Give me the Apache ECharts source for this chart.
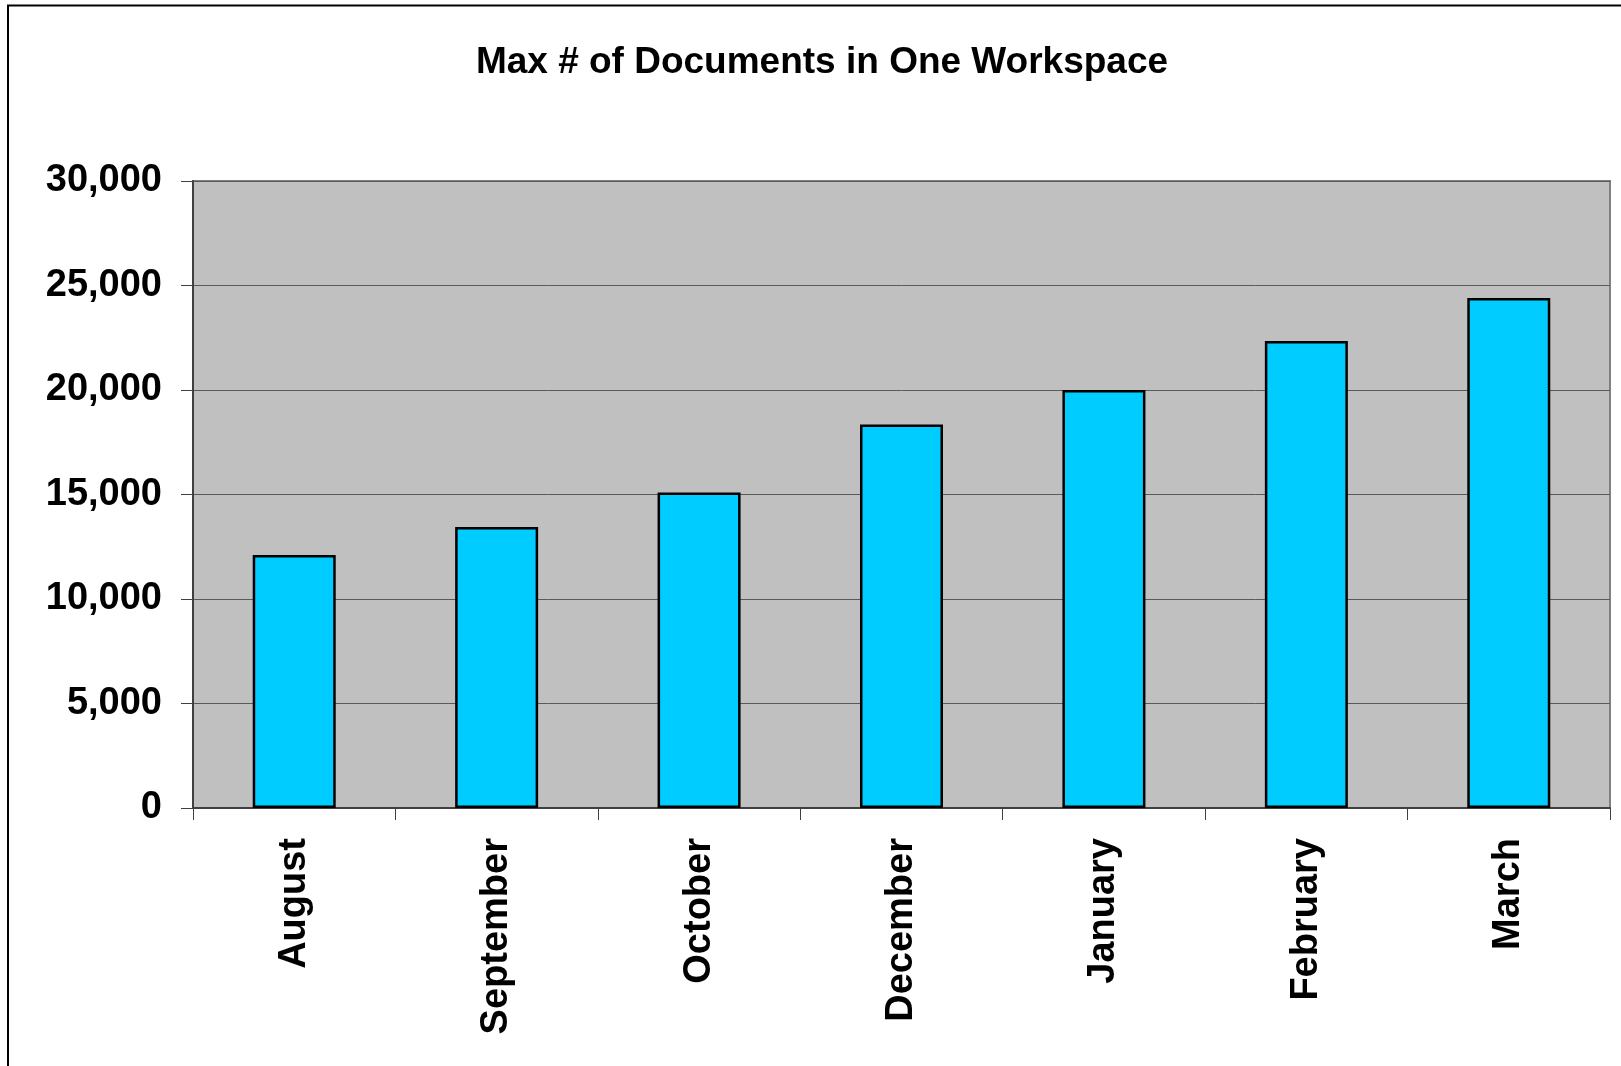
<!DOCTYPE html>
<html>
<head>
<meta charset="utf-8">
<script src="https://cdn.jsdelivr.net/npm/echarts@6/dist/echarts.min.js"></script>
<style>
html,body{margin:0;padding:0;background:#fff;}
#chart{width:1621px;height:1066px;}
</style>
</head>
<body>
<div id="chart"></div>
<script>
var titleText = 'Max # of Documents in One Workspace';
var categories = ['August', 'September', 'October', 'December', 'January', 'February', 'March'];
var maxDocs = [12100, 13450, 15100, 18350, 20000, 22350, 24400];
var yTicks = [0, 5000, 10000, 15000, 20000, 25000, 30000];

var FONT = '"Liberation Sans", Arial, sans-serif';
var chart = echarts.init(document.getElementById('chart'), null, {renderer: 'canvas'});
chart.setOption({
  backgroundColor: '#ffffff',
  animation: false,
  title: {
    text: titleText,
    left: 817,
    top: 39,
    textAlign: 'center',
    textStyle: {fontFamily: FONT, fontWeight: 'bold', fontSize: 37, color: '#000'}
  },
  graphic: [{
    type: 'rect',
    shape: {x: 8, y: 5.5, width: 1700, height: 1200},
    style: {fill: 'none', stroke: '#000', lineWidth: 2},
    silent: true, z: 100
  }],
  grid: {
    left: 193, top: 181, right: 11, bottom: 258,
    show: true, backgroundColor: '#C0C0C0', borderColor: '#808080', borderWidth: 2,
    containLabel: false
  },
  xAxis: {
    type: 'category',
    data: categories,
    boundaryGap: true,
    axisLine: {show: true, lineStyle: {color: '#404040', width: 2}},
    axisTick: {show: true, inside: false, length: 12, alignWithLabel: false, lineStyle: {color: '#404040', width: 1}},
    axisLabel: {
      rotate: 90, margin: 30, interval: 0,
      fontFamily: FONT, fontWeight: 'bold', fontSize: 38, color: '#000'
    },
    splitLine: {show: false}
  },
  yAxis: {
    type: 'value',
    min: 0, max: 30000, interval: 5000,
    axisLine: {show: true, lineStyle: {color: '#404040', width: 2}},
    axisTick: {show: true, inside: false, length: 12, lineStyle: {color: '#404040', width: 1}},
    axisLabel: {
      margin: 31,
      fontFamily: FONT, fontWeight: 'bold', fontSize: 38, color: '#000',
      formatter: function (v) { return yTicks.indexOf(v) >= 0 ? v.toLocaleString('en-US') : ''; }
    },
    splitLine: {show: true, lineStyle: {color: '#5a5a5a', width: 1}}
  },
  series: [{
    type: 'bar',
    data: maxDocs,
    barWidth: '41%',
    itemStyle: {color: '#00CCFF', borderColor: '#000', borderWidth: 2.5}
  }]
});
</script>
</body>
</html>
